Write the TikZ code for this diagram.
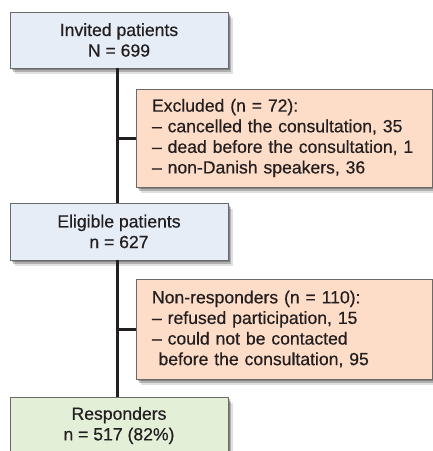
\documentclass[tikz,border=0pt]{standalone}
\usepackage{fontspec}
\setmainfont{Liberation Sans}
\newfontfamily\medfont{Liberation Sans}[FakeBold=0.5]
\usetikzlibrary{shadows}
\definecolor{boxblue}{HTML}{E7EDF7}
\definecolor{boxorange}{HTML}{FDDCC8}
\definecolor{boxgreen}{HTML}{E4EFD8}
\definecolor{edgegray}{HTML}{6A6A6A}
\definecolor{ink}{HTML}{231F20}
\tikzset{
  softshadow/.style={
    drop shadow={shadow xshift=1.5pt, shadow yshift=-2pt, fill=black, opacity=0.25},
    drop shadow={shadow xshift=3pt, shadow yshift=-4pt, fill=black, opacity=0.22},
    drop shadow={shadow xshift=4.5pt, shadow yshift=-6pt, fill=black, opacity=0.12}},
  box/.style={rectangle, draw=edgegray, line width=0.8pt, text=ink,
    font=\medfont\fontsize{17.6}{20.6}\selectfont, softshadow},
  mainbox/.style={box, minimum width=218pt, minimum height=56pt, align=center, inner sep=0pt},
  sidebox/.style={box, fill=boxorange, minimum width=296.5pt, text width=264.5pt,
    inner xsep=16pt, align=left},
  link/.style={draw=ink, line width=3pt}
}
\begin{document}
\begin{tikzpicture}[x=1pt, y=-1pt]
\clip (0,0) rectangle (433,451);
\node[mainbox, fill=boxblue] (inv) at (119,40) {Invited patients\\N = 699};
\node[sidebox, minimum height=98pt] (exc) at (284.25,138)
  {\mbox{Excluded (n = 72):}\\
   \mbox{– cancelled the consultation, 35}\\
   \mbox{– dead before the consultation, 1}\\
   \mbox{– non-Danish speakers, 36}};
\node[mainbox, fill=boxblue, minimum height=57pt] (elig) at (119,231.5) {Eligible patients\\n = 627};
\node[sidebox, minimum height=100pt] (non) at (284.25,329)
  {\mbox{Non-responders (n = 110):}\\
   \mbox{– refused participation, 15}\\
   \mbox{– could not be contacted}\\
   \mbox{\hspace*{6.5pt}before the consultation, 95}};
\node[mainbox, fill=boxgreen, minimum height=57pt] (resp) at (119,425.5) {Responders\\n = 517 (82\%)};
\coordinate (s1) at ([xshift=-2pt]inv.south);
\coordinate (s2) at ([xshift=-2pt]elig.north);
\coordinate (s3) at ([xshift=-2pt]elig.south);
\coordinate (s4) at ([xshift=-2pt]resp.north);
\draw[link] (s1) -- (s2);
\draw[link] (s3) -- (s4);
\draw[link] (s1 |- exc.west) -- (exc.west);
\draw[link] (s3 |- non.west) -- (non.west);
\end{tikzpicture}
\end{document}
